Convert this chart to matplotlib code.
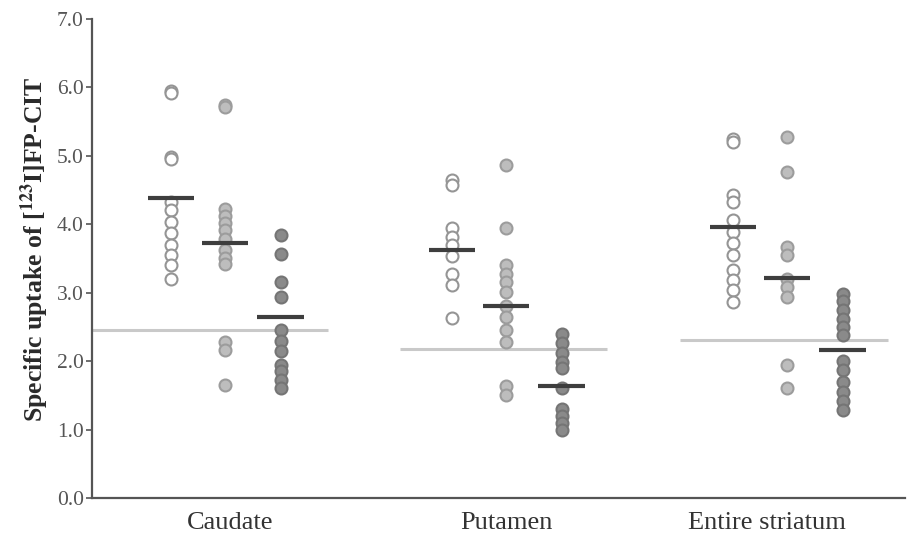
import matplotlib
matplotlib.use("Agg")
import matplotlib.pyplot as plt
import numpy as np

plt.rcParams['font.family'] = ['Liberation Serif', 'DejaVu Serif']
plt.rcParams['mathtext.fontset'] = 'stix'

# ---- data ----
regions = ["Caudate", "Putamen", "Entire striatum"]

caudate_g1 = [5.95, 5.92, 4.98, 4.95, 4.33, 4.21, 4.04, 3.87, 3.70, 3.55, 3.40, 3.20]
caudate_g2 = [5.75, 5.72, 4.22, 4.12, 4.02, 3.92, 3.78, 3.62, 3.50, 3.42, 2.28, 2.16, 1.65]
caudate_g3 = [3.84, 3.57, 3.16, 2.93, 2.46, 2.30, 2.15, 1.95, 1.85, 1.72, 1.60]

putamen_g1 = [4.65, 4.58, 3.95, 3.82, 3.70, 3.53, 3.28, 3.11, 2.63]
putamen_g2 = [4.87, 3.95, 3.40, 3.28, 3.16, 3.01, 2.80, 2.65, 2.46, 2.28, 1.63, 1.50]
putamen_g3 = [2.40, 2.26, 2.12, 1.98, 1.90, 1.60, 1.30, 1.20, 1.10, 0.99]

entire_g1 = [5.25, 5.20, 4.43, 4.33, 4.06, 3.89, 3.72, 3.55, 3.33, 3.19, 3.04, 2.87]
entire_g2 = [5.27, 4.77, 3.67, 3.55, 3.20, 3.08, 2.94, 1.94, 1.61]
entire_g3 = [2.98, 2.88, 2.75, 2.62, 2.50, 2.38, 2.00, 1.87, 1.70, 1.55, 1.42, 1.28]

caudate_means = [4.38, 3.73, 2.65]
putamen_means = [3.62, 2.80, 1.63]
entire_means = [3.96, 3.21, 2.16]

reference_values = [2.45, 2.17, 2.31]

y_ticks = [0, 1, 2, 3, 4, 5, 6, 7]
y_ticklabels = ["0.0", "1.0", "2.0", "3.0", "4.0", "5.0", "6.0", "7.0"]

# ---- layout / style ----
group_offsets = [-0.192, 0.0, 0.198]
label_positions = [0.02, 1.0, 1.93]
ref_spans = [(-0.48, 0.367), (0.623, 1.36), (1.62, 2.36)]
mean_halfwidth = 0.083

styles = [
    dict(facecolor="white", edgecolor="#959595"),
    dict(facecolor="#bdbdbd", edgecolor="#9c9c9c"),
    dict(facecolor="#8a8a8a", edgecolor="#757575"),
]

data = [
    [caudate_g1, caudate_g2, caudate_g3],
    [putamen_g1, putamen_g2, putamen_g3],
    [entire_g1, entire_g2, entire_g3],
]
means = [caudate_means, putamen_means, entire_means]

fig = plt.figure(figsize=(9.16, 5.33), dpi=100)
ax = fig.add_axes([0.1004, 0.0657, 0.8876, 0.8987])

for ci, groups in enumerate(data):
    x0, x1 = ref_spans[ci]
    ax.hlines(reference_values[ci], x0, x1, colors="#c9c9c9", linewidth=2.2, zorder=1)
    for gi, vals in enumerate(groups):
        xpos = ci + group_offsets[gi]
        ax.scatter(np.full(len(vals), xpos), vals, s=74, linewidths=1.5,
                   zorder=2, **styles[gi])
        ax.hlines(means[ci][gi], xpos - mean_halfwidth, xpos + mean_halfwidth,
                  colors="#3e3e3e", linewidth=3.0, zorder=3)

ax.set_xlim(-0.473, 2.42)
ax.set_ylim(0, 7)
ax.set_yticks(y_ticks)
ax.set_yticklabels(y_ticklabels, fontsize=15.5, color="#555555")
ax.set_xticks(label_positions)
ax.set_xticklabels(regions, fontsize=19, color="#333333")
ax.tick_params(axis="x", length=0, pad=10)
ax.tick_params(axis="y", length=4, width=1.2, color="#555555", pad=2)

for side in ["top", "right"]:
    ax.spines[side].set_visible(False)
for side in ["left", "bottom"]:
    ax.spines[side].set_color("#555555")
    ax.spines[side].set_linewidth(1.6)

ax.set_ylabel(r"Specific uptake of [$^{\mathbf{123}}$I]FP-CIT", fontsize=18.5,
              fontweight="bold", color="#2a2a2a")
ax.yaxis.set_label_coords(-0.05, 0.52)

fig.savefig("out.png", dpi=100)
